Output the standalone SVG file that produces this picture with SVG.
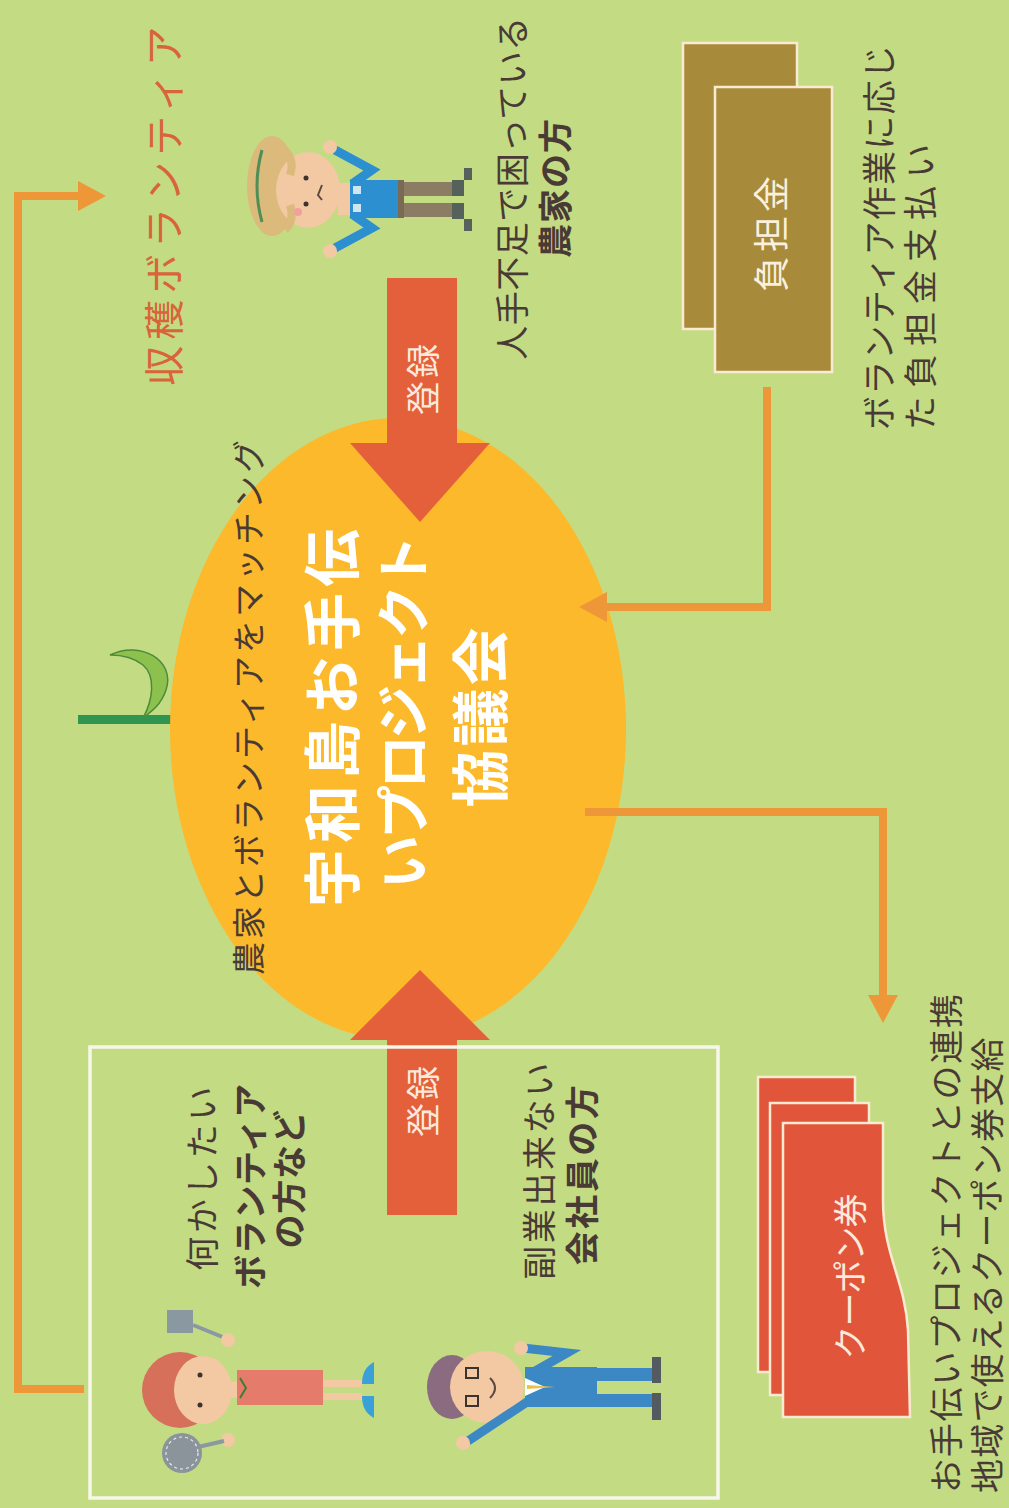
<svg xmlns="http://www.w3.org/2000/svg" width="1009" height="1508" viewBox="0 0 1009 1508">
  <defs>
    <style>
      .t { font-family: "Noto Sans CJK JP", "Noto Sans", sans-serif; dominant-baseline: central; }
      .dark { fill: #4a3a35; }
      .mid { text-anchor: middle; }
      .st { text-anchor: start; }
      .b { font-weight: 700; }
      .conn { fill: none; stroke: #ee9739; stroke-width: 8; stroke-linejoin: miter; }
      .reg { fill: #e4603b; }
      .skin { fill: #f2c9a2; }
      .card { stroke: #fbead2; stroke-width: 2.5; }
    </style>
    <marker id="head" viewBox="0 0 30 30" refX="0" refY="15" markerWidth="30" markerHeight="30" markerUnits="userSpaceOnUse" orient="auto">
      <path d="M0,0 L28,15 L0,30 Z" fill="#ee9739"/>
    </marker>
  </defs>

  <!-- background -->
  <rect width="1009" height="1508" fill="#c3dc83"/>

  <!-- sprout -->
  <g id="sprout">
    <rect x="78" y="715" width="95" height="9" fill="#2f9652"/>
    <path d="M110,655 C140,640 176,660 166,690 C161,705 151,712 143,718 C153,700 156,676 143,665 C133,657 121,655 110,655 Z" fill="#8dc14e" stroke="#4f8a3c" stroke-width="1.5"/>
  </g>

  <!-- central council -->
  <g id="council">
    <ellipse cx="398" cy="729" rx="228" ry="311" fill="#fbb92b"/>
    <text class="t mid b" fill="#ffffff" font-size="58" letter-spacing="6" transform="translate(329,715) rotate(-90)">宇和島お手伝</text>
    <text class="t mid b" fill="#ffffff" font-size="54" letter-spacing="-4" transform="translate(400,714) rotate(-90)">いプロジェクト</text>
    <text class="t mid b" fill="#ffffff" font-size="58" letter-spacing="3" transform="translate(477,716) rotate(-90)">協議会</text>
  </g>

  <text id="matching" class="t mid dark" font-size="33" letter-spacing="3" transform="translate(247,706) rotate(-90)">農家とボランティアをマッチング</text>

  <!-- connectors -->
  <g id="connectors">
    <path class="conn" d="M84,1389 L18,1389 L18,196 L78,196" marker-end="url(#head)"/>
    <path class="conn" d="M767,387 L767,607 L607,607" marker-end="url(#head)"/>
    <path class="conn" d="M585,812 L883,812 L883,995" marker-end="url(#head)"/>
  </g>

  <!-- registration arrows -->
  <g id="reg-farmer">
    <polygon class="reg" points="387,278 457,278 457,443 490,443 420,522 350,443 387,443"/>
    <text class="t mid" fill="#fbeadc" font-size="34" letter-spacing="3" transform="translate(421,378) rotate(-90)">登録</text>
  </g>
  <g id="reg-worker">
    <polygon class="reg" points="387,1215 457,1215 457,1040 490,1040 420,970 350,1040 387,1040"/>
    <text class="t mid" fill="#fbeadc" font-size="34" letter-spacing="3" transform="translate(421,1100) rotate(-90)">登録</text>
  </g>

  <!-- harvest volunteer label -->
  <text id="harvest" class="t mid" fill="#d9643c" font-size="40" letter-spacing="6" transform="translate(162,203) rotate(-90)">収穫ボランティア</text>

  <!-- farmer -->
  <g id="farmer">
    <ellipse cx="272" cy="186" rx="25" ry="50" fill="#dcba7c"/>
    <path d="M262,150 Q252,186 262,222" fill="none" stroke="#4e8f56" stroke-width="3"/>
    <ellipse cx="308" cy="190" rx="32" ry="38" class="skin"/>
    <path d="M285,150 Q295,160 290,175 M285,230 Q295,220 290,205" fill="none" stroke="#dcba7c" stroke-width="8"/>
    <circle cx="306" cy="178" r="2.5" fill="#3d332e"/>
    <circle cx="306" cy="204" r="2.5" fill="#3d332e"/>
    <path d="M322,185 L318,195 L322,200" fill="none" stroke="#5a4a40" stroke-width="2"/>
    <circle cx="298" cy="212" r="4" fill="#f0a0a0"/>
    <rect x="338" y="183" width="14" height="32" class="skin"/>
    <polyline points="335,150 372,170 352,184" fill="none" stroke="#2b8fd0" stroke-width="9"/>
    <polyline points="335,248 372,228 352,214" fill="none" stroke="#2b8fd0" stroke-width="9"/>
    <circle cx="330" cy="147" r="7" class="skin"/>
    <circle cx="330" cy="251" r="7" class="skin"/>
    <rect x="350" y="180" width="48" height="38" fill="#2b8fd0"/>
    <rect x="353" y="186" width="8" height="8" fill="#cfe6f2"/>
    <rect x="353" y="204" width="8" height="8" fill="#cfe6f2"/>
    <rect x="398" y="180" width="6" height="38" fill="#7a6a54"/>
    <rect x="404" y="182" width="50" height="14" fill="#8c7c63"/>
    <rect x="404" y="203" width="50" height="14" fill="#8c7c63"/>
    <path d="M452,180 L472,180 L472,168 L464,168 L464,196 L452,196 Z" fill="#55615b"/>
    <path d="M452,203 L464,203 L464,231 L472,231 L472,219 L452,219 Z" fill="#55615b"/>
  </g>

  <text class="t mid dark" font-size="34" letter-spacing="0.5" transform="translate(510,188) rotate(-90)">人手不足で困っている</text>
  <text class="t mid dark b" font-size="34" letter-spacing="1" transform="translate(553,188) rotate(-90)">農家の方</text>

  <!-- contribution cards -->
  <g id="contribution">
    <rect x="683" y="43" width="114" height="286" fill="#a88a3b" class="card"/>
    <rect x="715" y="87" width="117" height="285" fill="#a88a3b" class="card"/>
    <text class="t mid" fill="#fbf0dc" font-size="36" letter-spacing="4" transform="translate(769,232) rotate(-90)">負担金</text>
  </g>
  <text class="t st dark" font-size="34" letter-spacing="1.3" transform="translate(877,430) rotate(-90)">ボランティア作業に応じ</text>
  <text class="t st dark" font-size="34" letter-spacing="8" transform="translate(918,430) rotate(-90)">た負担金支払い</text>

  <!-- applicants box -->
  <g id="applicants">
    <rect x="90" y="1047" width="628" height="451" fill="none" stroke="#f6f7ea" stroke-width="3.5"/>

    <!-- volunteer woman -->
    <g id="woman">
      <rect x="167" y="1310" width="26" height="23" fill="#8a98a2"/>
      <line x1="193" y1="1325" x2="225" y2="1338" stroke="#8a98a2" stroke-width="4"/>
      <circle cx="180" cy="1390" r="38" fill="#d6705a"/>
      <ellipse cx="203" cy="1390" rx="29" ry="34" class="skin"/>
      <circle cx="200" cy="1375" r="2.5" fill="#3d332e"/>
      <circle cx="200" cy="1405" r="2.5" fill="#3d332e"/>
      <rect x="228" y="1382" width="10" height="16" class="skin"/>
      <rect x="237" y="1370" width="86" height="35" fill="#e47b6b"/>
      <path d="M240,1378 L246,1388 L240,1398" fill="none" stroke="#3c7d2e" stroke-width="2"/>
      <rect x="323" y="1380" width="39" height="7" class="skin"/>
      <rect x="323" y="1393" width="39" height="7" class="skin"/>
      <path d="M362,1384 L374,1384 L374,1362 Q362,1368 362,1384 Z" fill="#3aa0d8"/>
      <path d="M362,1396 L374,1396 L374,1418 Q362,1412 362,1396 Z" fill="#3aa0d8"/>
      <circle cx="228" cy="1340" r="7" class="skin"/>
      <circle cx="228" cy="1440" r="7" class="skin"/>
      <line x1="198" y1="1447" x2="224" y2="1441" stroke="#8a98a2" stroke-width="4"/>
      <circle cx="182" cy="1453" r="20" fill="#8a949a"/>
      <circle cx="182" cy="1453" r="16" fill="none" stroke="#e8ecef" stroke-width="1.2" stroke-dasharray="3 3"/>
    </g>

    <!-- office worker -->
    <g id="worker">
      <ellipse cx="452" cy="1387" rx="25" ry="32" fill="#8b6b7f"/>
      <ellipse cx="487" cy="1387" rx="37" ry="36" class="skin"/>
      <rect x="466" y="1368" width="12" height="10" fill="none" stroke="#3d332e" stroke-width="2"/>
      <rect x="466" y="1396" width="12" height="10" fill="none" stroke="#3d332e" stroke-width="2"/>
      <path d="M490,1378 Q500,1388 490,1398" fill="none" stroke="#5a4a40" stroke-width="2"/>
      <polyline points="523,1348 567,1353 530,1374" fill="none" stroke="#3b88c4" stroke-width="9"/>
      <line x1="530" y1="1400" x2="468" y2="1441" stroke="#3b88c4" stroke-width="9"/>
      <circle cx="521" cy="1348" r="7" class="skin"/>
      <circle cx="463" cy="1443" r="7" class="skin"/>
      <rect x="525" y="1367" width="72" height="40" fill="#3b88c4"/>
      <path d="M525,1378 L545,1387 L525,1396 Z" fill="#ffffff"/>
      <path d="M527,1385 L555,1387 L527,1389 Z" fill="#e8c14a"/>
      <rect x="597" y="1368" width="56" height="13" fill="#3b88c4"/>
      <rect x="597" y="1394" width="56" height="13" fill="#3b88c4"/>
      <rect x="652" y="1357" width="9" height="26" fill="#535b60"/>
      <rect x="652" y="1393" width="9" height="27" fill="#535b60"/>
    </g>

    <text class="t mid dark" font-size="34" letter-spacing="3.5" transform="translate(200,1177) rotate(-90)">何かしたい</text>
    <text class="t mid dark b" font-size="34" letter-spacing="0.6" transform="translate(248,1186) rotate(-90)">ボランティア</text>
    <text class="t mid dark b" font-size="34" letter-spacing="0.7" transform="translate(287,1179) rotate(-90)">の方など</text>
    <text class="t mid dark" font-size="34" letter-spacing="2.6" transform="translate(537,1170) rotate(-90)">副業出来ない</text>
    <text class="t mid dark b" font-size="34" letter-spacing="2.5" transform="translate(580,1174) rotate(-90)">会社員の方</text>
  </g>

  <!-- coupon cards -->
  <g id="coupon">
    <rect x="758" y="1077" width="97" height="295" fill="#e1553b" class="card"/>
    <rect x="770" y="1103" width="99" height="292" fill="#e1553b" class="card"/>
    <path d="M783,1123 L883,1123 L883,1200 C883,1255 905,1280 908,1330 L910,1417 L783,1417 Z" fill="#e1553b" class="card"/>
    <text class="t mid" fill="#fbeadc" font-size="34" letter-spacing="-1" transform="translate(848,1277) rotate(-90)">クーポン券</text>
  </g>
  <text class="t st dark" font-size="34" letter-spacing="1.8" transform="translate(944,1493) rotate(-90)">お手伝いプロジェクトとの連携</text>
  <text class="t st dark" font-size="34" letter-spacing="1.2" transform="translate(985,1493) rotate(-90)">地域で使えるクーポン券支給</text>
</svg>
